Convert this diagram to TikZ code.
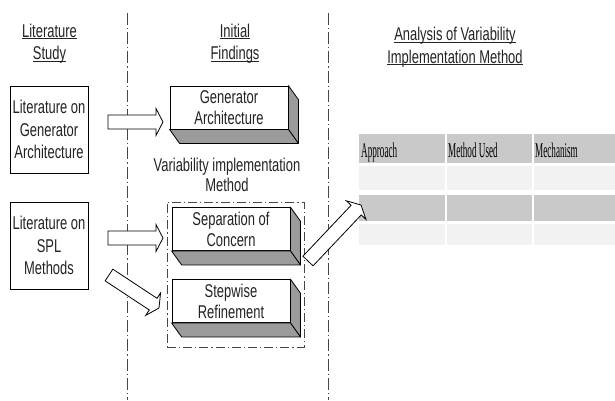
\documentclass[tikz,border=0pt]{standalone}
\usepackage{fontspec}
\setmainfont{Liberation Sans}[FakeStretch=0.70]
\newfontfamily\tabfont{Liberation Serif}[FakeStretch=0.435]
\usetikzlibrary{calc}
\definecolor{txt}{RGB}{35,35,35}
\definecolor{sidegray}{RGB}{155,155,155}
\definecolor{hdrgray}{RGB}{201,201,201}
\definecolor{rowlight}{RGB}{242,242,242}
\definecolor{lineg}{RGB}{70,70,70}
\newcommand\ulin[1]{\setbox0\hbox{#1}\rlap{\rule[-2pt]{\wd0}{0.8pt}}\box0}
\newcommand\blockarrow[2]{%
  \path let \p1=($(#2)-(#1)$), \n1={atan2(\y1,\x1)}, \n2={veclen(\x1,\y1)} in
    \pgfextra{\xdef\arrang{\n1}\xdef\arrlen{\n2}};
  \pic[rotate=\arrang] at (#1) {barrow=\arrlen};}
\tikzset{
  lbl/.style={font=\fontsize{18.5}{22.5}\selectfont, text=txt, align=center, inner sep=0pt},
  litbox/.style={draw=black, line width=0.8pt, minimum width=78pt, minimum height=87pt,
    inner sep=0pt, align=center, text=txt, font=\fontsize{18.5}{22.5}\selectfont},
  face/.style={draw=black, fill=white, line width=0.8pt, minimum width=118pt, minimum height=43pt,
    font=\fontsize{18.5}{21}\selectfont, align=center, inner sep=0pt, text=txt},
  side/.style={draw=black, fill=sidegray, line width=0.8pt, line join=round},
  ddot/.style={draw=lineg, line width=0.8pt, dash pattern=on 12pt off 3pt on 1.2pt off 3pt},
  gdot/.style={draw=lineg, line width=0.8pt, dash pattern=on 9pt off 3pt on 1.2pt off 3pt},
  barrowstyle/.style={draw=black, fill=white, line width=0.8pt, line join=miter},
  barrow/.pic={\path[barrowstyle] (0,-7) -- (#1-7,-7) -- (#1-7,-13.5) -- (#1,0) -- (#1-7,13.5) -- (#1-7,7) -- (0,7) -- cycle;},
  tabtxt/.style={font=\tabfont\fontsize{21}{22}\selectfont, inner sep=0pt, text=black},
}
\begin{document}
\begin{tikzpicture}[x=1pt,y=-1pt]
\useasboundingbox[fill=white] (0,0) rectangle (615,400);

% column separators
\coordinate (v1a) at (127,13); \coordinate (v1b) at (127,400);
\coordinate (v2a) at (328,13); \coordinate (v2b) at (328,400);
\draw[ddot] (v1a) -- (v1b);
\draw[ddot] (v2a) -- (v2b);

% headers (base = last line)
\node[lbl, anchor=base] (h1) at (49.5,59.5) {\ulin{Literature}\\\ulin{Study}};
\node[lbl, anchor=base] (h2) at (235,59.5) {\ulin{Initial}\\\ulin{Findings}};
\node[lbl, anchor=base] (h3) at (455,63) {\ulin{Analysis of Variability}\\\ulin{Implementation Method}};

% literature boxes
\node[litbox] (lit1) at (49,129.5) {Literature on\\Generator\\Architecture};
\node[litbox] (lit2) at (49,245.5) {Literature on\\SPL\\Methods};

% group frame
\node[gdot, minimum width=137pt, minimum height=145pt, inner sep=0pt] (grp) at (235.5,274.5) {};

% label
\node[lbl, anchor=base, font=\fontsize{18.5}{20}\selectfont] (vim) at (227,191) {Variability implementation\\Method};

% 3D boxes
\foreach \nm/\cx/\cy/\txt in {gen/229/107.5/{Generator\\Architecture}, sep/231/229/{Separation of\\Concern}, stp/231/301/{Stepwise\\Refinement}}{
  \node[face] (\nm) at (\cx,\cy) {\txt};
  \draw[side] (\nm.north east) -- ([shift={(10,14)}]\nm.north east) -- ([shift={(10,14)}]\nm.south east) -- (\nm.south east) -- cycle;
  \draw[side] (\nm.south west) -- (\nm.south east) -- ([shift={(10,14)}]\nm.south east) -- ([shift={(10,14)}]\nm.south west) -- cycle;
}

% table
\foreach \xa/\xb in {359/445,447/532,534/615}{
  \fill[hdrgray] (\xa,134) rectangle (\xb,163);
  \fill[rowlight] (\xa,166) rectangle (\xb,190);
  \fill[hdrgray] (\xa,195) rectangle (\xb,221);
  \fill[rowlight] (\xa,224) rectangle (\xb,245);
}
\node[tabtxt, anchor=base west] (c1) at (361,157) {Approach};
\node[tabtxt, anchor=base west] (c2) at (448,157) {Method Used};
\node[tabtxt, anchor=base west] (c3) at (535,157) {Mechanism};

% block arrows
\coordinate (a1s) at (108,122); \coordinate (a1t) at (163,122);
\coordinate (a2s) at (108,238); \coordinate (a2t) at (163,238);
\coordinate (a3s) at (109,275); \coordinate (a3t) at (159,308);
\coordinate (a4s) at (308,261); \coordinate (a4t) at (361,205);
\blockarrow{a1s}{a1t}
\blockarrow{a2s}{a2t}
\blockarrow{a3s}{a3t}
\blockarrow{a4s}{a4t}
\end{tikzpicture}
\end{document}
